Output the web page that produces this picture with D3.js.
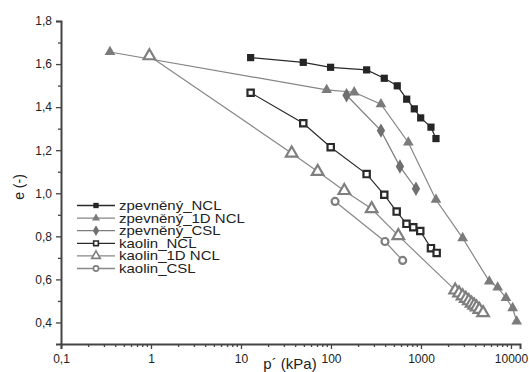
<!DOCTYPE html>
<html>
<head>
<meta charset="utf-8">
<script src="https://cdn.jsdelivr.net/npm/d3@7"></script>
<style>
body{margin:0;background:#fff;}
text{font-family:"Liberation Sans",Arial,sans-serif;fill:#222;}
</style>
</head>
<body>
<script>
// data: [p' (kPa), e]
var zpevNCL=[[12.8,1.630],[49.2,1.608],[99,1.585],[249,1.573],[391,1.534],[545,1.499],[694,1.437],[843,1.392],[993,1.350],[1291,1.307],[1468,1.254]]
var zpev1D=[[0.35,1.656],[89.6,1.480],[181,1.469],[359,1.414],[723,1.236],[1468,0.970],[2906,0.792],[5741,0.591],[7117,0.563],[8799,0.514],[10443,0.467],[11570,0.405]]
var zpevCSL=[[149,1.455],[359,1.291],[584,1.124],[880,1.021]]
var kaoNCL=[[12.8,1.467],[49.2,1.325],[99.3,1.214],[249,1.089],[391,0.993],[537,0.915],[690,0.858],[821,0.842],[982,0.825],[1291,0.745],[1494,0.723]]
var kao1D=[[0.96,1.638],[36.6,1.186],[71.1,1.101],[140.6,1.012],[283,0.928],[560,0.803],[2400,0.550],[2650,0.536],[2900,0.523],[3150,0.511],[3400,0.500],[3650,0.489],[3900,0.480],[4150,0.471],[4450,0.460],[4900,0.445]]
var kaoCSL=[[111,0.962],[398,0.776],[626,0.688]]

var seriesNames=["zpevněný_NCL","zpevněný_1D NCL","zpevněný_CSL","kaolin_NCL","kaolin_1D NCL","kaolin_CSL"]
var yTicks=[0.4,0.6,0.8,1.0,1.2,1.4,1.6,1.8]
var xTicks=[0.1,1,10,100,1000,10000]

var series=[
 {name:seriesNames[0],data:zpevNCL,sym:d3.symbolSquare,size:52,fill:"#252525",stroke:"none",line:"#2a2a2a"},
 {name:seriesNames[1],data:zpev1D,sym:d3.symbolTriangle,size:50,fill:"#7b7b7b",stroke:"none",line:"#858585"},
 {name:seriesNames[2],data:zpevCSL,sym:d3.symbolDiamond,size:60,fill:"#6f6f6f",stroke:"none",line:"#7d7d7d"},
 {name:seriesNames[3],data:kaoNCL,sym:d3.symbolSquare,size:40,fill:"#fff",stroke:"#2a2a2a",line:"#2a2a2a"},
 {name:seriesNames[4],data:kao1D,sym:d3.symbolTriangle,size:58,fill:"#fff",stroke:"#7f7f7f",line:"#888"},
 {name:seriesNames[5],data:kaoCSL,sym:d3.symbolCircle,size:38,fill:"#fff",stroke:"#7f7f7f",line:"#888"}
]

var W=529,H=372
var svg=d3.select("body").append("svg").attr("width",W).attr("height",H)

var x=d3.scaleLog().domain([0.1,12600]).range([61,520])
var y=d3.scaleLinear().domain([0.3,1.8]).range([344,21])

var fmt=function(v){return d3.format(".1f")(v).replace(".",",")}

// axes
var yAxis=svg.append("g").attr("transform","translate(61,0)")
yAxis.call(d3.axisLeft(y).tickValues(yTicks).tickFormat(fmt).tickSize(5).tickPadding(4))
yAxis.append("g").call(d3.axisLeft(y).tickValues([0.5,0.7,0.9,1.1,1.3,1.5,1.7]).tickFormat("").tickSize(3))

var minor=[]
for(var dec=0.1;dec<10000;dec*=10){for(var k=2;k<10;k++){if(dec*k<12600)minor.push(dec*k)}}
var xAxis=svg.append("g").attr("transform","translate(0,344)")
xAxis.call(d3.axisBottom(x).tickValues(xTicks).tickFormat(function(v){return v<1?"0,1":d3.format("d")(v)}).tickSize(5).tickPadding(5))
xAxis.append("g").call(d3.axisBottom(x).tickValues(minor).tickFormat("").tickSize(3))

svg.selectAll(".domain").attr("stroke","#444").attr("stroke-width",2)
svg.selectAll(".tick line").attr("stroke","#444").attr("stroke-width",1.3)
svg.selectAll(".tick text").style("font-size","12px").attr("fill","#222")
xAxis.selectAll("g g .domain").remove()
yAxis.selectAll("g g .domain").remove()

// axis titles
svg.append("text").attr("transform","translate(24,187) rotate(-90)").attr("text-anchor","middle").style("font-size","14px").text("e (-)")
svg.append("text").attr("x",290).attr("y",369).attr("text-anchor","middle").style("font-size","15px").text("p´ (kPa)")

// series
var line=d3.line().x(function(d){return x(d[0])}).y(function(d){return y(d[1])})
series.forEach(function(s){
  svg.append("path").datum(s.data).attr("d",line).attr("fill","none").attr("stroke",s.line).attr("stroke-width",1.2)
  svg.selectAll(null).data(s.data).enter().append("path")
   .attr("d",d3.symbol().type(s.sym).size(s.size))
   .attr("transform",function(d){return "translate("+x(d[0])+","+y(d[1])+")"})
   .attr("fill",s.fill).attr("stroke",s.stroke).attr("stroke-width",2.2)
})

// legend
var lg=svg.append("g")
series.forEach(function(s,i){
  var yy=205.5+i*12.6
  lg.append("line").attr("x1",77).attr("x2",115).attr("y1",yy).attr("y2",yy).attr("stroke",s.line).attr("stroke-width",1.3)
  lg.append("path").attr("d",d3.symbol().type(s.sym).size(s.size*0.55)).attr("transform","translate(96,"+yy+")")
   .attr("fill",s.fill).attr("stroke",s.stroke).attr("stroke-width",1.6)
  lg.append("text").attr("transform","translate(119,"+(yy+4.5)+") scale(1.2,1)").style("font-size","12.5px").text(s.name)
})
</script>
</body>
</html>
